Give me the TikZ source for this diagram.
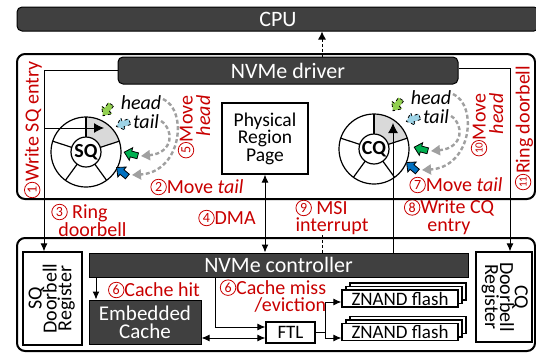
\documentclass[tikz,border=0pt]{standalone}
\usepackage{fontspec}
\setmainfont{Carlito}
\usetikzlibrary{arrows.meta,shadows,calc}
\definecolor{barfill}{HTML}{404040}
\definecolor{lblred}{HTML}{C80000}
\definecolor{ringgray}{HTML}{D9D9D9}
\definecolor{curvegray}{HTML}{A0A0A0}
\definecolor{headgreen}{HTML}{00B050}
\definecolor{tailblue}{HTML}{0070C0}
\definecolor{lightgreen}{HTML}{92D050}
\definecolor{lightblue}{HTML}{9DD3E6}
% circled step numbers
\newcommand\cn[1]{\tikz[baseline=-6.5pt]\node[draw=lblred, text=lblred, circle, line width=0.8pt,
  inner sep=0pt, minimum size=15.5pt, font=\fontsize{14}{14}\selectfont]{#1};}
\newcommand\cnn[1]{\tikz[baseline=-6.5pt]\node[draw=lblred, text=lblred, circle, line width=0.8pt,
  inner sep=0pt, minimum size=15.5pt, font=\fontsize{11}{11}\selectfont]{#1};}
\newcommand\fs[1]{\fontsize{#1}{17}\selectfont}
\tikzset{
  bar/.style={draw=black, fill=barfill, text=white, line width=1pt, inner sep=0pt, font=\fs{22}},
  frame/.style={draw=black, line width=2pt, rounded corners=8pt, inner sep=0pt},
  plainbox/.style={draw=black, fill=white, line width=1.2pt, inner sep=0pt, font=\fs{20}},
  lbl/.style={text=lblred, inner sep=0pt, font=\fontsize{20}{17.5}\selectfont},
  note/.style={inner sep=0pt, font=\fs{20}\itshape},
  arr/.style={line width=1pt, -{Latex[length=8pt,width=7pt]}},
  darr/.style={line width=1pt, {Latex[length=8pt,width=7pt]}-{Latex[length=8pt,width=7pt]}},
  moveline/.style={draw=curvegray, line width=2.4pt, dash pattern=on 4pt off 2.5pt,
    -{Triangle[length=9pt,width=10pt]}},
  stack/.style={plainbox, minimum width=116pt, minimum height=17pt, font=\fs{19},
    double copy shadow={shadow xshift=4pt, shadow yshift=3.5pt, draw=black, fill=white, line width=1.2pt}},
  blockarrow/.pic={
    \draw[pic actions] (-7,-3) -- (0,-3) -- (0,-6.5) -- (7,0) -- (0,6.5) -- (0,3) -- (-7,3) -- cycle;},
  ringwheel/.pic={
    \begin{scope}[yscale=-1, line width=1.2pt]
      \fill[ringgray] (18:15) arc[start angle=18,end angle=90,radius=15]
        -- (90:35) arc[start angle=90,end angle=18,radius=35] -- cycle;
      \draw (0,0) circle[radius=35];
      \draw (0,0) circle[radius=15];
      \foreach \a in {18,90,162,234,306} \draw (\a:15) -- (\a:35);
    \end{scope}}
}
\begin{document}
\begin{tikzpicture}[x=1pt,y=-1pt]
\useasboundingbox (0,0) rectangle (536,354);
\clip (0,0) rectangle (536,354);

% host side
\node[bar, rounded corners=5pt, minimum width=522pt, minimum height=24pt] (cpu) at (278,19) {CPU};
\node[bar, rounded corners=5pt, minimum width=340pt, minimum height=27pt] (drv) at (288,70.5) {NVMe driver};
\node[plainbox, minimum width=86pt, minimum height=71pt, align=center, font=\fontsize{19.5}{17.5}\selectfont] (prp) at (265,138.5) {Physical\\Region\\Page};

% submission and completion queues
\pic at (86,152) {ringwheel};
\node[inner sep=0pt, font=\fs{20}\bfseries] (sq) at (86,152) {SQ};
\pic at (374,149) {ringwheel};
\node[inner sep=0pt, font=\fs{20}\bfseries] (cq) at (374,149) {CQ};

% head / tail markers, SQ side
\pic[fill=lightgreen, draw=black, dashed, line width=0.8pt, rotate=235] at (107,110) {blockarrow};
\pic[fill=lightblue, draw=black, dashed, line width=0.8pt, rotate=200] at (123,124) {blockarrow};
\node[note] (sqhead) at (141,103) {head};
\node[note] (sqtail) at (146,122) {tail};
\pic[fill=headgreen, draw=black, line width=0.8pt, rotate=165] at (131,154) {blockarrow};
\pic[fill=tailblue, draw=black, line width=0.8pt, rotate=140] at (122,172) {blockarrow};
\coordinate (sqh) at (141,156);
\coordinate (sqt) at (132,175);
\draw[moveline] (161,121) .. controls (174,129) and (174,153) .. (sqh);
\draw[moveline] (163,99) .. controls (188,110) and (182,172) .. (sqt);

% head / tail markers, CQ side
\pic[fill=lightgreen, draw=black, dashed, line width=0.8pt, rotate=235] at (397,105) {blockarrow};
\pic[fill=lightblue, draw=black, dashed, line width=0.8pt, rotate=200] at (413,119) {blockarrow};
\node[note] (cqhead) at (431,98) {head};
\node[note] (cqtail) at (436,117) {tail};
\pic[fill=headgreen, draw=black, line width=0.8pt, rotate=165] at (421,149) {blockarrow};
\pic[fill=tailblue, draw=black, line width=0.8pt, rotate=140] at (412,167) {blockarrow};
\coordinate (cqh) at (431,151);
\coordinate (cqt) at (422,170);
\draw[moveline] (451,116) .. controls (464,124) and (464,148) .. (cqh);
\draw[moveline] (453,94) .. controls (478,105) and (472,167) .. (cqt);

% device side
\node[plainbox, minimum width=59pt, minimum height=93pt, align=center] (sqdb) at (52.5,298.5)
  {\rotatebox{90}{\begin{tabular}{@{}c@{}}SQ\\[-4pt]Doorbell\\[-4pt]Register\end{tabular}}};
\node[plainbox, minimum width=56pt, minimum height=90pt, align=center] (cqdb) at (504,297)
  {\rotatebox{-90}{\begin{tabular}{@{}c@{}}CQ\\[-4pt]Doorbell\\[-4pt]Register\end{tabular}}};
\node[bar, minimum width=379pt, minimum height=24pt] (ctrl) at (278.5,265) {NVMe controller};
\node[bar, minimum width=112pt, minimum height=44pt, align=center, font=\fontsize{21}{18}\selectfont] (cache) at (145,322) {Embedded\\Cache};
\node[plainbox, minimum width=49pt, minimum height=21pt, font=\fs{19}] (ftl) at (290.5,332.5) {FTL};
\node[stack] (zn1) at (400,298.5) {ZNAND flash};
\node[stack] (zn2) at (400,332) {ZNAND flash};

% connectors
\coordinate (msi) at (322,0);
\draw[line width=1pt, dash pattern=on 3pt off 2pt, -{Latex[length=8pt,width=8pt]}] (drv.north -| msi) -- (cpu.south -| msi);
\coordinate (sqbend) at (44,70);
\coordinate (sqin) at (44,128);
\coordinate (sqtip) at (104,128);
\draw[arr] (drv.west |- sqbend) -- (sqbend) -- (sqdb.north -| sqbend);
\draw[line width=1pt, -{Latex[length=10pt,width=10pt]}] (sqin) -- (sqtip);
\coordinate (cqbend) at (510,68);
\draw[arr] (drv.east |- cqbend) -- (cqbend) -- (cqdb.north -| cqbend);
\coordinate (cqtip) at (393,123);
\draw[line width=1pt, -{Latex[length=10pt,width=10pt]}] (ctrl.north -| cqtip) -- (cqtip);
\draw[darr] (prp.south) -- (prp.south |- ctrl.north);
\draw[line width=1pt, dash pattern=on 3pt off 2pt] (ctrl.north -| msi) -- (322,200);
\coordinate (hitx) at (96,0);
\draw[arr] (ctrl.south -| hitx) -- (cache.north -| hitx);
\coordinate (missx) at (215,327);
\draw[arr] (ctrl.south -| missx) -- (missx) -- (ftl.west |- missx);
\coordinate (cfy) at (0,338);
\draw[darr] (cache.east |- cfy) -- (ftl.west |- cfy);
\coordinate (fj) at (325,332.5);
\draw[line width=1pt] (ftl.east) -- (fj);
\draw[arr] (fj) |- ($(zn1.west)+(0,3.5)$);
\draw[arr] (fj) |- ($(zn2.west)+(0,6)$);

% step labels
\node[lbl, rotate=90] (l1) at (33,130) {\cn{1}Write SQ entry};
\node[lbl, rotate=90, align=right] (l5) at (194,127) {\cn{5}Move\\\textit{head}};
\node[lbl] (l2) at (197,187) {\cn{2}Move \textit{tail}};
\node[lbl, align=left] (l3) at (89,220) {\cn{3} Ring\\\hspace{7pt}doorbell};
\node[lbl] (l4) at (227,218) {\cn{4}DMA};
\node[lbl, align=left, fill=white] (l9) at (332,217.5) {\cn{9} MSI\\interrupt};
\node[lbl, align=center] (l8) at (449,217) {\cn{8}Write CQ\\entry};
\node[lbl] (l7) at (456,185) {\cn{7}Move \textit{tail}};
\node[lbl, rotate=90, align=right] (l10) at (487,125) {\cnn{10}Move\\\textit{head}};
\node[lbl, rotate=90] (l11) at (524,128) {\cnn{11}Ring doorbell};
\node[lbl] (l6a) at (154,290) {\cn{6}Cache hit};
\node[lbl, align=right] (l6b) at (273,296) {\cn{6}Cache miss\\/eviction};

% enclosing frames
\node[frame, minimum width=518pt, minimum height=145pt] (host) at (276,126.5) {};
\node[frame, minimum width=518pt, minimum height=113pt] (ssd) at (276,294.5) {};
\end{tikzpicture}
\end{document}
